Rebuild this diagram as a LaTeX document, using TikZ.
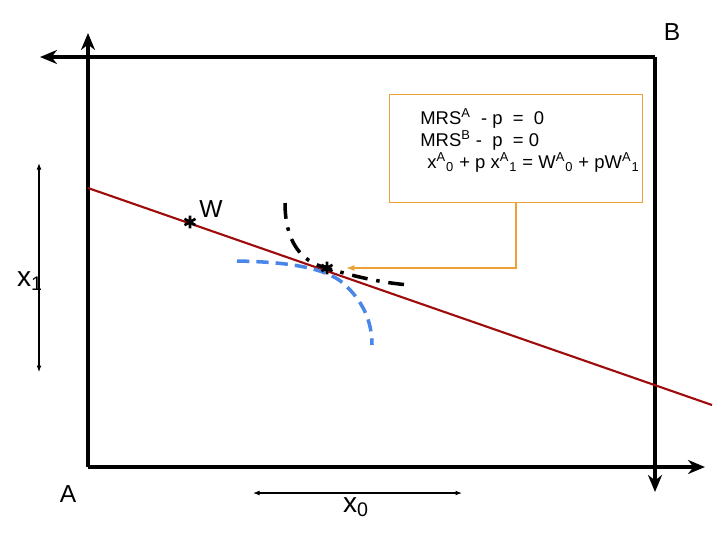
\documentclass[tikz,border=0pt]{standalone}
\usepackage{fontspec}
\setmainfont{Liberation Sans}
\usepackage{xcolor}
\usetikzlibrary{arrows.meta,plotmarks}

\definecolor{budgetred}{HTML}{9E0B0B}
\definecolor{noteorange}{HTML}{EBA135}
\definecolor{curveblue}{HTML}{4A86E8}

\begin{document}
\begin{tikzpicture}[
    x=0.02cm, y=-0.02cm,
    font=\fontsize{12}{14}\selectfont,
    axis/.style={line width=2.2pt, -{Stealth[length=3.4mm, width=2.8mm, inset=1.1mm]}},
    span/.style={line width=0.6pt, {Latex[length=1.3mm]}-{Latex[length=1.3mm]}},
    budget/.style={draw=budgetred, line width=1.2pt},
    indiffA/.style={line width=2pt, dash pattern=on 9pt off 5pt on 2pt off 5pt},
    indiffB/.style={draw=curveblue, line width=2pt, dash pattern=on 7pt off 4pt},
    note/.style={draw=noteorange, line width=0.7pt, minimum width=5.06cm,
                 minimum height=2.16cm, inner sep=0pt},
    lbl/.style={inner sep=0pt, font=\fontsize{14}{16}\selectfont},
    varlbl/.style={inner sep=0pt, font=\fontsize{16}{18}\selectfont}]
    \useasboundingbox (0,0) rectangle (716,535);
    % Edgeworth box corners and axis ends
    \coordinate (origA) at (88,467);
    \coordinate (origB) at (655,57);
    \coordinate (Atop) at (88,33);
    \coordinate (Aright) at (705,467);
    \coordinate (Bleft) at (40,57);
    \coordinate (Bdown) at (655,492);
    \draw[axis] (origA) -- (Atop);
    \draw[axis] (origA) -- (Aright);
    \draw[axis] (origB) -- (Bleft);
    \draw[axis] (origB) -- (Bdown);
    \node[lbl] (labA) at (68,494) {A};
    \node[lbl] (labB) at (672,32) {B};
    % size of the box
    \coordinate (x1top) at (39,163);
    \coordinate (x1bot) at (39,372);
    \coordinate (x0left) at (253,493);
    \coordinate (x0right) at (462,493);
    \draw[span] (x1top) -- (x1bot);
    \draw[span] (x0left) -- (x0right);
    \node[varlbl] (labx1) at (30,281) {x\textsubscript{1}};
    \node[varlbl] (labx0) at (356,507) {x\textsubscript{0}};
    % budget line through the endowment
    \coordinate (bstart) at (88,188);
    \coordinate (bend) at (712,405);
    \draw[budget] (bstart) -- (bend);
    \coordinate (endow) at (190,222);
    \coordinate (eq) at (327,268);
    \node[lbl] (labW) at (211,209) {W};
    % indifference curves
    \draw[indiffA] (285,203) .. controls (285,240) and (300,262) .. (eq)
        .. controls (352,276) and (382,283) .. (410,285);
    \draw[indiffB] (237,261) .. controls (290,262) and (325,268) .. (343,283)
        .. controls (362,300) and (372,320) .. (372,345);
    \foreach \p in {endow,eq}
      \path plot[mark=asterisk, mark size=3.6pt, mark options={line width=1.5pt}]
        coordinates {(\p)};
    % equilibrium conditions
    \node[note, anchor=north west] (eqbox) at (389,94) {};
    \node[anchor=north west, inner sep=0pt, align=left,
          font=\fontsize{10.5}{12.5}\selectfont] (eqtext) at (420,108)
      {MRS\textsuperscript{A}\ \ - p\ \ =\ \ 0\\
       MRS\textsuperscript{B} -\ \ p\ \ = 0\\
       \hspace{4pt}x\textsuperscript{A}\textsubscript{0} + p x\textsuperscript{A}\textsubscript{1}
       = W\textsuperscript{A}\textsubscript{0} + pW\textsuperscript{A}\textsubscript{1}};
    \draw[draw=noteorange, line width=0.7pt, -{Latex[length=1.6mm]}, shorten >=11pt]
      (eqbox.south) |- (eq);
  \end{tikzpicture}
\end{document}
